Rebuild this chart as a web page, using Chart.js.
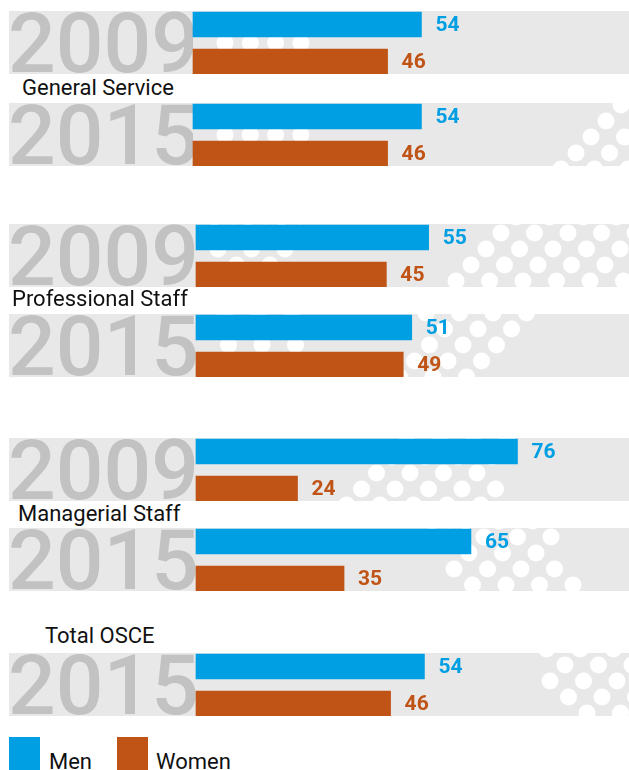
<!DOCTYPE html>
<html>
<head>
<meta charset="utf-8">
<script src="https://cdn.jsdelivr.net/npm/chart.js@4.4.1/dist/chart.umd.min.js"></script>
<style>
  body { margin: 0; background: #fff; width: 629px; height: 770px; overflow: hidden; position: relative; font-family: Roboto, "Open Sans", sans-serif; }
  canvas.band { position: absolute; left: 0; }
  .grp { position: absolute; font-size: 22px; color: #111; line-height: 1; white-space: nowrap; }
  .key { position: absolute; width: 31px; height: 40px; }
  .keytxt { position: absolute; font-size: 22px; color: #111; line-height: 1; }
</style>
</head>
<body>
<script>
// data
var groups = ['General Service', 'Professional Staff', 'Managerial Staff', 'Total OSCE'];
var years = ['2009', '2015', '2009', '2015', '2009', '2015', '2015'];
var men = [54, 54, 55, 51, 76, 65, 54];
var women = [46, 46, 45, 49, 24, 35, 46];
var seriesNames = ['Men', 'Women'];

var BLUE = '#009fe3';
var ORANGE = '#c05417';
var GREY = '#e8e8e8';

// layout of the bands on the page
var bandTop = [11, 103, 224, 314, 438, 528, 653];
var barLeft = [193, 193, 196, 196, 196, 196, 196];
var BAND_H = 63;
var groupLabels = [
  {text: groups[0], x: 22, y: 77},
  {text: groups[1], x: 12, y: 288},
  {text: groups[2], x: 18, y: 503},
  {text: groups[3], x: 45, y: 625}
];

// decorative dots: [xLeftTop, xLeftBottom, xRightTop, xRightBottom]
var dotAreas = [
  [],
  [[610, 555, 660, 660]],
  [[205, 205, 300, 300], [480, 440, 660, 660]],
  [[205, 205, 300, 300], [420, 390, 545, 490]],
  [[380, 330, 520, 490]],
  [[420, 470, 545, 605]],
  [[530, 560, 660, 660]]
];
var gapRow = [true, true, false, false, false, false, false];

function drawDots(ctx, k) {
  var top = bandTop[k];
  ctx.save();
  ctx.beginPath();
  ctx.rect(9, 0, 620, BAND_H);
  ctx.clip();
  ctx.fillStyle = '#fff';
  if (gapRow[k]) {
    for (var g = 0; g < 4; g++) {
      ctx.beginPath();
      ctx.arc(225 + g * 25.3, 32, 8.5, 0, Math.PI * 2);
      ctx.fill();
    }
  }
  var areas = dotAreas[k];
  for (var j = -30; j < 40; j++) {
    var py = 233 + 16 * j;
    if (py < top - 10 || py > top + BAND_H + 10) continue;
    var t = (py - top) / BAND_H;
    for (var i = -30; i < 30; i++) {
      var px = 501 + 33.5 * i - 15 * j;
      for (var a = 0; a < areas.length; a++) {
        var ar = areas[a];
        var l = ar[0] + (ar[1] - ar[0]) * t;
        var r = ar[2] + (ar[3] - ar[2]) * t;
        if (px >= l && px <= r) {
          ctx.beginPath();
          ctx.arc(px, py - top, 8.5, 0, Math.PI * 2);
          ctx.fill();
          break;
        }
      }
    }
  }
  ctx.restore();
}

var bandBg = {
  id: 'bandBg',
  beforeDraw: function(chart) {
    var ctx = chart.ctx;
    var k = chart.options.bandIndex;
    ctx.save();
    ctx.fillStyle = GREY;
    ctx.fillRect(9, 0, 620, BAND_H);
    drawDots(ctx, k);
    ctx.beginPath();
    ctx.rect(9, 0, barLeft[k] - 9, BAND_H);
    ctx.clip();
    ctx.fillStyle = '#c2c2c2';
    ctx.font = '500 84px Roboto';
    ctx.textBaseline = 'alphabetic';
    ctx.textAlign = 'left';
    ctx.fillText(years[k], 8, 61);
    ctx.restore();
  }
};

var valueLabels = {
  id: 'valueLabels',
  afterDatasetsDraw: function(chart) {
    var ctx = chart.ctx;
    var ds = chart.data.datasets[0];
    chart.getDatasetMeta(0).data.forEach(function(bar, i) {
      ctx.save();
      ctx.fillStyle = ds.backgroundColor[i];
      ctx.font = 'bold 21px Roboto';
      ctx.textBaseline = 'middle';
      ctx.textAlign = 'left';
      ctx.fillText(ds.data[i], bar.x + 14, bar.y + 1);
      ctx.restore();
    });
  }
};

for (var k = 0; k < years.length; k++) {
  var cv = document.createElement('canvas');
  cv.className = 'band';
  cv.width = 629;
  cv.height = BAND_H;
  cv.style.top = bandTop[k] + 'px';
  document.body.appendChild(cv);

  new Chart(cv, {
    type: 'bar',
    data: {
      labels: seriesNames,
      datasets: [{
        data: [men[k], women[k]],
        backgroundColor: [BLUE, ORANGE],
        barThickness: 25,
        clip: false
      }]
    },
    options: {
      bandIndex: k,
      indexAxis: 'y',
      responsive: false,
      animation: false,
      layout: {padding: {left: barLeft[k], right: 629 - barLeft[k] - 423, top: 13.5, bottom: 12.5}},
      scales: {
        x: {min: 0, max: 100, display: false},
        y: {display: false, offset: false}
      },
      plugins: {legend: {display: false}, tooltip: {enabled: false}}
    },
    plugins: [bandBg, valueLabels]
  });
}

groupLabels.forEach(function(g) {
  var d = document.createElement('div');
  d.className = 'grp';
  d.textContent = g.text;
  d.style.left = g.x + 'px';
  d.style.top = g.y + 'px';
  document.body.appendChild(d);
});

// legend
[[9, 49, BLUE, seriesNames[0]], [117, 156, ORANGE, seriesNames[1]]].forEach(function(it) {
  var sq = document.createElement('div');
  sq.className = 'key';
  sq.style.left = it[0] + 'px';
  sq.style.top = '737px';
  sq.style.background = it[2];
  document.body.appendChild(sq);
  var tx = document.createElement('div');
  tx.className = 'keytxt';
  tx.textContent = it[3];
  tx.style.left = it[1] + 'px';
  tx.style.top = '751px';
  document.body.appendChild(tx);
});
</script>
</body>
</html>
